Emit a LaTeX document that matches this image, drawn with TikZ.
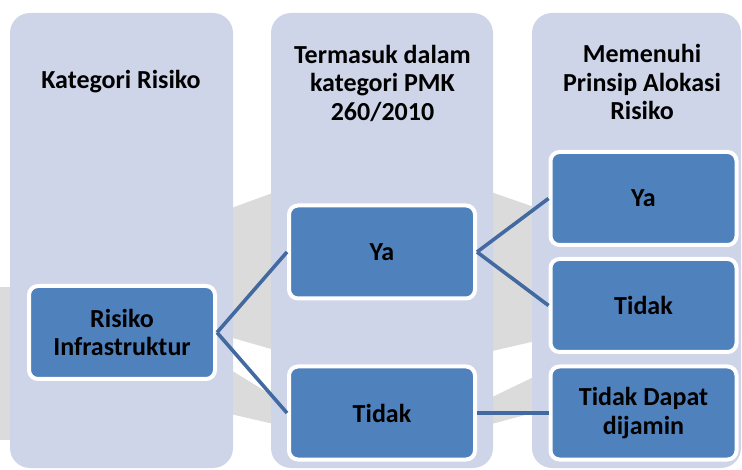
\documentclass[tikz,border=0pt]{standalone}
\usepackage{fontspec}
\setmainfont{Carlito}[BoldFont={* Bold}]
\begin{document}
\definecolor{panelfill}{RGB}{207,213,233}
\definecolor{boxfill}{RGB}{79,129,189}
\definecolor{linkcol}{RGB}{66,106,160}
\definecolor{markgray}{RGB}{219,219,219}
\begin{tikzpicture}[x=1pt,y=-1pt,
  panel/.style={fill=panelfill,draw=none,rounded corners=20pt,inner sep=0pt},
  header/.style={align=center,font=\fontsize{26}{28.5}\selectfont\bfseries,text=black},
  choice/.style={fill=boxfill,draw=white,line width=4pt,rounded corners=9pt,
    minimum width=186pt,minimum height=93pt,inner sep=0pt,align=center,
    font=\fontsize{26}{28.5}\selectfont\bfseries,text=black},
  link/.style={draw=linkcol,line width=3.6pt}]
\useasboundingbox (0,0) rectangle (742,470);
% faint background mark, seen between the columns
\fill[markgray] (0,287) rectangle (14,440);
\fill[markgray] (226,210) -- (278,191) -- (278,351) -- (226,336) -- cycle;
\fill[markgray] (226,367) -- (278,399) -- (278,425) -- (226,413) -- cycle;
\fill[markgray] (488,191) -- (540,209) -- (540,340) -- (488,352) -- cycle;
\fill[markgray] (488,399) -- (540,374) -- (540,411) -- (488,425) -- cycle;
% column panels
\node[panel,minimum width=223pt,minimum height=455pt] (p1) at (121.5,240.5) {};
\node[panel,minimum width=222pt,minimum height=455pt] (p2) at (382,240.5) {};
\node[panel,minimum width=209pt,minimum height=455pt] (p3) at (636.5,240.5) {};
% column headings
\node[header] (h1) at (121,82) {Kategori Risiko};
\node[header] (h2) at (382.5,83) {Termasuk dalam\\kategori PMK\\260/2010};
\node[header] (h3) at (642,82) {Memenuhi\\Prinsip Alokasi\\Risiko};
% decision boxes
\node[choice] (ri) at (122,332.5) {Risiko\\Infrastruktur};
\node[choice] (ya2) at (382,252) {Ya};
\node[choice] (td2) at (382,413) {Tidak};
\node[choice] (ya3) at (643.5,198.5) {Ya};
\node[choice] (td3) at (643.5,305.5) {Tidak};
\node[choice] (tdd) at (643.5,413) {Tidak Dapat\\dijamin};
% connectors
\draw[link] (ri.east) -- (ya2.west);
\draw[link] (ri.east) -- (td2.west);
\draw[link] (ya2.east) -- (ya3.west);
\draw[link] (ya2.east) -- (td3.west);
\draw[link] (td2.east) -- (tdd.west);
\end{tikzpicture}
\end{document}
